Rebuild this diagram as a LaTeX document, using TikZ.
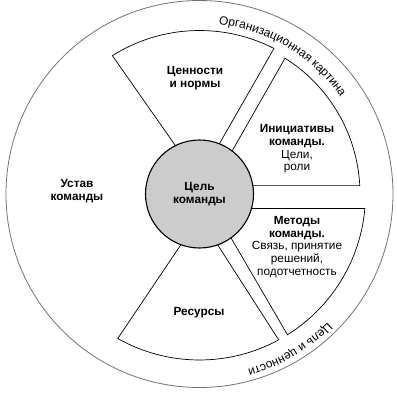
\documentclass[tikz,border=0pt]{standalone}
\usepackage{fontspec}
\setmainfont{Liberation Sans}
\usetikzlibrary{calc,decorations.text}
\newcommand{\lblfont}{\fontsize{11.8}{12.7}\selectfont}
\begin{document}
\begin{tikzpicture}[x=1pt,y=1pt,
  sect/.style={draw=black, line width=0.7pt, fill=white, line join=miter},
  lbl/.style={align=center, font=\lblfont, inner sep=0pt},
  blbl/.style={align=center, font=\lblfont\bfseries, inner sep=0pt},
  arctext/.style={decorate, decoration={text along path, text align=left, text={#1}}}]
\useasboundingbox (-199.5,-200) rectangle (197.5,194);
% outer circle
\draw[line width=0.8pt, draw=black!55] (0,0) circle (193.5);
% values sector
\coordinate (vL) at (-25.2,50);
\coordinate (vR) at (20.5,51.3);
\coordinate (vLo) at (122.2:163.5);
\coordinate (vRo) at (62.9:163.5);
\draw[sect] ($(vL)!-6pt!(vLo)$) -- (vLo) arc[start angle=122.2, end angle=62.9, radius=163.5] -- ($(vR)!-6pt!(vRo)$) -- cycle;
% initiatives sector
\coordinate (iT) at (33.2,44);
\coordinate (iTo) at (57.8:160.5);
\draw[sect] ($(iT)!-6pt!(iTo)$) -- (iTo) arc[start angle=57.8, end angle=3.0, radius=160.5] -- (40,8.4) -- cycle;
% methods sector
\coordinate (mTo) at (-5:166);
\coordinate (mBo) at (-58:166);
\coordinate (mL) at (32.2,-45);
\draw[sect] (40,-14.47) -- (mTo) arc[start angle=-5, end angle=-58, radius=166] -- ($(mL)!-6pt!(mBo)$) -- cycle;
% resources sector
\coordinate (rR) at (17.8,-50.3);
\coordinate (rL) at (-18.8,-51);
\coordinate (rRo) at (-61.5:166);
\coordinate (rLo) at (-119.5:166);
\draw[sect] ($(rR)!-6pt!(rRo)$) -- (rRo) arc[start angle=-61.5, end angle=-119.5, radius=166] -- ($(rL)!-6pt!(rLo)$) -- cycle;
% centre
\node[circle, draw=black, line width=1.1pt, fill=black!20, minimum size=108pt, inner sep=0pt, align=center, font=\lblfont\bfseries] (goal) at (0,0) {Цель\\команды};
% labels
\node[blbl] (values) at (-4.5,115.5) {Ценности\\и нормы};
\node[lbl] (init) at (97.5,45) {\textbf{Инициативы}\\\textbf{команды.}\\Цели,\\роли};
\node[lbl] (methods) at (97.5,-53) {\textbf{Методы}\\\textbf{команды.}\\Связь, принятие\\решений,\\подотчетность};
\node[blbl] (res) at (-0.5,-119) {Ресурсы};
\node[blbl] (charter) at (-122.5,3) {Устав\\команды};
% ring texts
\path[arctext={|\fontsize{12}{14}\selectfont|Организационная картина}] (83.6:171) arc[start angle=83.6, end angle=20, radius=171];
\path[arctext={|\fontsize{12}{14}\selectfont|Цель и ценности}] (-45:181.5) arc[start angle=-45, end angle=-95, radius=181.5];
\end{tikzpicture}
\end{document}
